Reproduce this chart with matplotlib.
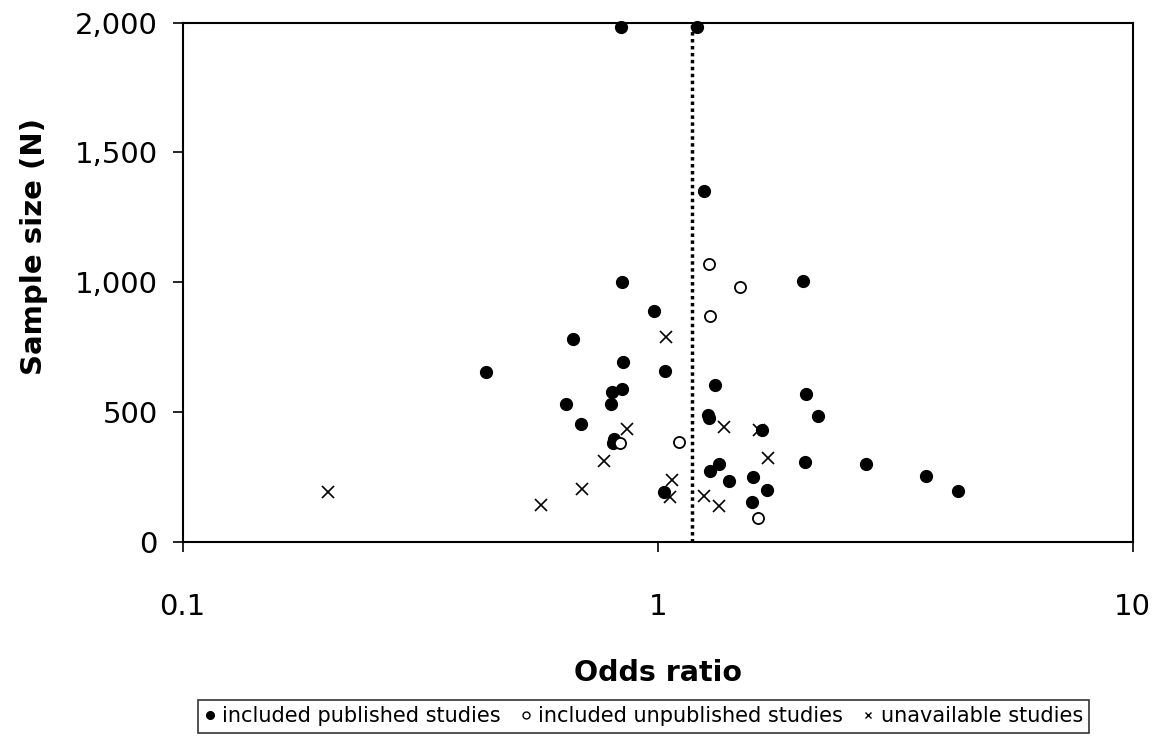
import numpy as np
import matplotlib.pyplot as plt
from matplotlib.lines import Line2D
from matplotlib.ticker import FuncFormatter

plt.rcParams['font.family'] = ['DejaVu Sans']

# included published studies
pub_or = [0.836, 1.208, 1.254, 0.842, 2.022, 0.982, 0.662, 0.846, 0.436, 1.037,
          1.318, 0.800, 0.841, 2.055, 0.641, 0.796, 1.274, 1.280, 2.17, 0.690,
          1.66, 0.808, 0.804, 1.348, 1.287, 2.04, 2.745, 1.589, 1.415, 3.68,
          1.031, 1.698, 4.29, 1.577]
pub_n = [1985, 1985, 1353, 1000, 1005, 890, 780, 694, 655, 659,
         605, 578, 587, 568, 531, 532, 488, 475, 486, 454,
         429, 396, 382, 298, 274, 307, 299, 248, 233, 253,
         190, 199, 197, 152]

# included unpublished studies
unpub_or = [1.284, 1.488, 1.287, 1.110, 0.834, 1.624]
unpub_n = [1069, 983, 870, 385, 379, 91]

# unavailable studies
unav_or = [1.039, 0.861, 0.771, 0.693, 0.568, 1.070, 1.061, 1.252, 1.348, 1.381,
           1.636, 1.705, 0.202]
unav_n = [790, 435, 310, 202, 140, 238, 171, 177, 139, 443,
          430, 321, 191]

ref_or = 1.18

fig = plt.figure(figsize=(11.61, 7.36), dpi=100)
ax = fig.add_axes([0.1574, 0.264, 0.8182, 0.7052])

ax.plot(pub_or, pub_n, 'o', color='black', markersize=8.5, linestyle='none', clip_on=False)
ax.plot(unpub_or, unpub_n, 'o', mfc='white', mec='black', mew=1.3, markersize=8,
        linestyle='none', clip_on=False)
ax.plot(unav_or, unav_n, 'x', color='black', mew=1.2, markersize=8.5,
        linestyle='none', clip_on=False)
ax.axvline(ref_or, color='black', lw=2.5, dashes=(1, 1), zorder=0)

ax.set_xscale('log')
ax.set_xlim(0.1, 10)
ax.set_ylim(0, 2000)
ax.set_xticks([0.1, 1, 10])
ax.set_xticklabels(['0.1', '1', '10'])
ax.minorticks_off()
ax.set_yticks([0, 500, 1000, 1500, 2000])
ax.yaxis.set_major_formatter(FuncFormatter(lambda v, p: f'{int(v):,}'))

for s in ax.spines.values():
    s.set_linewidth(1.5)
ax.tick_params(axis='both', direction='out', length=7, width=1.2, labelsize=21)
ax.tick_params(axis='x', pad=30)
ax.tick_params(axis='y', pad=11)

ax.set_xlabel('Odds ratio', fontsize=20.5, fontweight='bold')
ax.xaxis.set_label_coords(0.5, -0.226)
ax.set_ylabel('Sample size (N)', fontsize=21, fontweight='bold')
ax.yaxis.set_label_coords(-0.142, 0.568)

handles = [
    Line2D([], [], marker='o', color='black', linestyle='none', markersize=5.5),
    Line2D([], [], marker='o', mfc='white', mec='black', linestyle='none', markersize=5),
    Line2D([], [], marker='x', color='black', linestyle='none', markersize=5),
]
labels = ['included published studies', 'included unpublished studies', 'unavailable studies']
leg = fig.legend(handles, labels, ncol=3, loc='center', bbox_to_anchor=(0.5545, 0.0265),
                 fontsize=15, frameon=True, fancybox=False, edgecolor='black',
                 handlelength=0.5, handletextpad=0.35, columnspacing=0.95,
                 borderpad=0.3, borderaxespad=0)
leg.get_frame().set_linewidth(1.2)

fig.savefig('out.png', dpi=100)
